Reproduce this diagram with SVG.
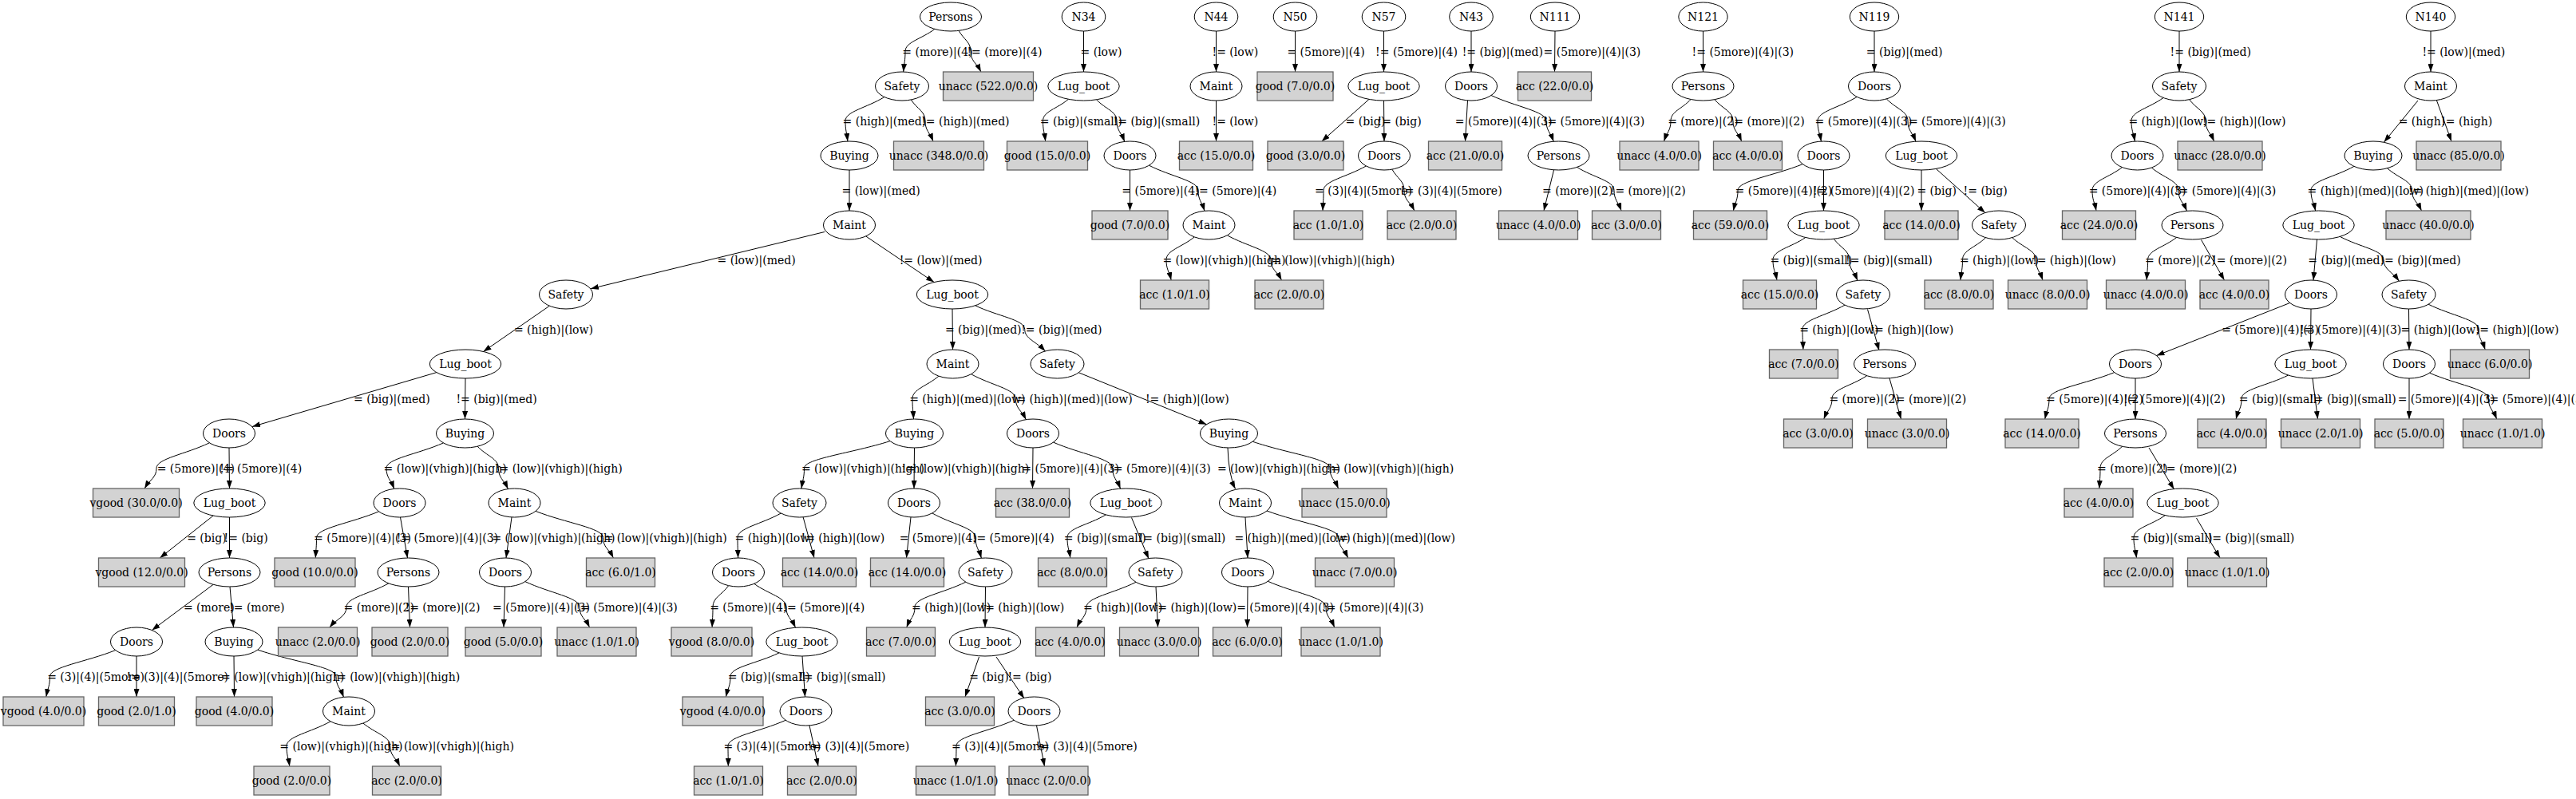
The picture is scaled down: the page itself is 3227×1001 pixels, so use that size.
<svg xmlns="http://www.w3.org/2000/svg" width="3227" height="1001" viewBox="0 0 3227 1001">
<defs>
<style>
text{font-family:"DejaVu Serif","Liberation Serif",serif;font-size:14px;fill:#000}
.en ellipse{fill:#fff;stroke:#000;stroke-width:1}
.bn rect{fill:#d3d3d3;stroke:#666;stroke-width:1.3}
.en text,.bn text{text-anchor:middle}
#connectors path{fill:none;stroke:#000;stroke-width:1;marker-end:url(#arr)}
</style>
<marker id="arr" markerWidth="10" markerHeight="7" refX="10" refY="3.5" orient="auto" markerUnits="userSpaceOnUse"><path d="M0,0L10,3.5L0,7z" fill="#000"/></marker>
</defs>
<rect width="3227" height="1001" fill="#fff"/>
<g id="connectors">
<path d="M1170.9,36.4 C1154.3,49 1134,52.5 1134,64.5 S1132.7,78.5 1131.7,90"/>
<path d="M1201,38.4 C1207.8,50.1 1216,52.5 1216,64.5 S1223.1,78.5 1228.9,90"/>
<path d="M1107.8,121.6 C1085.8,135.1 1059,139.5 1059,151.5 S1060.6,165.5 1061.9,177"/>
<path d="M1141.3,125 C1149.3,136.9 1159,139.5 1159,151.5 S1164.5,165.5 1169,177"/>
<path d="M1064,213 L1064,264"/>
<path d="M1033,290.5 L740,361.7"/>
<path d="M1084.6,295.9 L1170.1,353.5"/>
<path d="M688.4,383.2 L605.5,440.5"/>
<path d="M546.9,466.6 L316,534.5"/>
<path d="M583,474 L582.5,525"/>
<path d="M262.4,554.8 C232.5,569.1 196,574.5 196,586.5 S187.8,600.5 181.1,612"/>
<path d="M287,561 L287.5,612"/>
<path d="M267.2,646 L200.3,699"/>
<path d="M287.5,648 L287.5,699"/>
<path d="M267.1,732.3 L190.4,789.5"/>
<path d="M288,735 L292.5,786"/>
<path d="M144.7,814.6 C107.7,829.4 62.5,835.5 62.5,847.5 S59.9,861.5 57.8,873"/>
<path d="M171,822 L171,873"/>
<path d="M293,822 L293.5,873"/>
<path d="M322.8,814.1 C367,829.1 421,835.5 421,847.5 S426.2,861.7 430.5,873.4"/>
<path d="M414.1,903.8 C389.3,917.6 359,922.5 359,934.5 S361.1,948.5 362.8,960"/>
<path d="M454.9,906 C470.1,918.8 488.7,922.5 488.7,934.5 S495.4,948.5 500.9,960"/>
<path d="M555.5,554.9 C523.3,569.1 484,574.5 484,586.5 S489.4,600.7 493.8,612.4"/>
<path d="M598.1,559.2 C609.9,571.5 624.4,574.5 624.4,586.5 S631,600.9 636.4,612.6"/>
<path d="M474.6,640.8 C439.5,655.5 396.5,661.5 396.5,673.5 S395.8,687.5 395.3,699"/>
<path d="M501.5,648 L510.5,699"/>
<path d="M486.9,730.8 C463.1,744.2 434,748.5 434,760.5 S422.4,774.5 412.9,786"/>
<path d="M511.5,735 L513.5,786"/>
<path d="M641,648 L634,699"/>
<path d="M671,640.4 C709,655.3 755.5,661.5 755.5,673.5 S762.6,687.5 768.4,699"/>
<path d="M632.5,735 L631,786"/>
<path d="M657.8,728.6 C688.5,743 726,748.5 726,760.5 S732.9,774.5 738.6,786"/>
<path d="M1193,387 L1193.5,438"/>
<path d="M1221.7,382.8 C1249.6,396.2 1283.7,400.5 1283.7,412.5 S1297.8,427.6 1309.4,439.9"/>
<path d="M1175.9,471.2 C1161.1,483.9 1143,487.5 1143,499.5 S1143.8,513.5 1144.5,525"/>
<path d="M1216.5,468.7 C1241.6,482.6 1272.3,487.5 1272.3,499.5 S1279.5,513.9 1285.3,525.7"/>
<path d="M1351.3,466.8 L1511.5,531.7"/>
<path d="M1115,552.6 C1066.6,567.9 1007.5,574.5 1007.5,586.5 S1005.6,600.5 1004,612"/>
<path d="M1145.5,561 L1145,612"/>
<path d="M978.3,643 C953.9,656.7 924,661.5 924,673.5 S924.3,687.5 924.6,699"/>
<path d="M1006,647.5 L1020,699"/>
<path d="M912.7,733.7 C903.8,745.8 893,748.5 893,760.5 S892.5,774.5 892.1,786"/>
<path d="M944.7,731.3 C962.7,744.4 984.8,748.5 984.8,760.5 S991.2,774.7 996.5,786.3"/>
<path d="M976,817.9 C948.5,831.2 915,835.5 915,847.5 S911.9,861.5 909.4,873"/>
<path d="M1005,822 L1008.5,873"/>
<path d="M984.2,902.3 C951.7,916.8 912,922.5 912,934.5 S912.3,948.5 912.3,960"/>
<path d="M1014,909 L1025,960"/>
<path d="M1141,648 L1135.5,699"/>
<path d="M1167.8,642.9 C1192.2,656.7 1222,661.5 1222,673.5 S1226.1,687.6 1229.4,699.2"/>
<path d="M1209.8,729.2 C1181.1,743.3 1146,748.5 1146,760.5 S1140.3,774.5 1135.7,786"/>
<path d="M1234.5,735 L1234,786"/>
<path d="M1226.5,823 L1209,873"/>
<path d="M1248,823 L1283,875"/>
<path d="M1270.2,902.3 C1237.7,916.8 1198,922.5 1198,934.5 S1197.7,948.5 1197.4,960"/>
<path d="M1298.5,909 L1308.5,960"/>
<path d="M1294,561 L1293.5,612"/>
<path d="M1319.5,554.1 C1352.9,568.7 1393.7,574.5 1393.7,586.5 S1399.1,600.6 1403.6,612.2"/>
<path d="M1385.3,644.9 C1363.6,657.8 1337,661.5 1337,673.5 S1339.1,687.5 1340.8,699"/>
<path d="M1417.5,648.5 L1439,700"/>
<path d="M1423,729.3 C1395.1,743.3 1361,748.5 1361,760.5 S1354.4,774.5 1349,786"/>
<path d="M1448,735 L1450.5,786"/>
<path d="M1538,561 Q1539,595 1547.5,612.5"/>
<path d="M1569.2,553.2 C1612.8,568.2 1666,574.5 1666,586.5 S1671.8,600.5 1676.6,612"/>
<path d="M1560,648 L1563,699"/>
<path d="M1587,640 C1627.5,655.1 1677,661.5 1677,673.5 S1683.4,687.5 1688.7,699"/>
<path d="M1563,735 L1562.5,786"/>
<path d="M1588.4,728.3 C1621.1,742.8 1661,748.5 1661,760.5 S1667,774.5 1671.8,786"/>
<path d="M1357.5,39 L1357.5,90"/>
<path d="M1338.4,124.3 C1324,136.5 1306.5,139.5 1306.5,151.5 S1308.3,165.5 1309.7,177"/>
<path d="M1373.5,124.8 C1385,136.8 1399,139.5 1399,151.5 S1404.4,165.7 1408.8,177.4"/>
<path d="M1415.5,213 L1415.5,264"/>
<path d="M1439.4,207.2 C1467.1,221.3 1501,226.5 1501,238.5 S1505.4,252.7 1509,264.3"/>
<path d="M1496.2,296.9 C1480.4,309.8 1461,313.5 1461,325.5 S1464.4,339.5 1467.2,351"/>
<path d="M1537.4,294.8 C1562,308.6 1592,313.5 1592,325.5 S1599.4,339.5 1605.5,351"/>
<path d="M1523.5,39 L1523.5,90"/>
<path d="M1523.5,126 L1523.5,177"/>
<path d="M1622.5,39 L1622.5,90"/>
<path d="M1733.5,39 L1733.5,90"/>
<path d="M1715,124.4 L1655.8,177"/>
<path d="M1733.5,126 L1734,177"/>
<path d="M1711.4,207.9 C1687.4,221.7 1658,226.5 1658,238.5 S1657.5,252.5 1657,264"/>
<path d="M1743.9,212.2 C1750.7,224 1759,226.5 1759,238.5 S1766.1,252.5 1771.9,264"/>
<path d="M1843,39 L1843,90"/>
<path d="M1838.5,126 L1835.5,177"/>
<path d="M1868,119.5 C1899.1,133.9 1937,139.5 1937,151.5 S1942.1,165.6 1946.2,177.2"/>
<path d="M1946.5,213 L1934,264"/>
<path d="M1975.5,209.4 C1996.4,222.5 2022,226.5 2022,238.5 S2027,252.5 2031.1,264"/>
<path d="M1948,39 L1947.5,90"/>
<path d="M2133.5,39 L2133.5,90"/>
<path d="M2118.1,124.5 C2106.8,136.7 2093,139.5 2093,151.5 S2088.3,165.5 2084.5,177"/>
<path d="M2147.9,124.7 C2158.3,136.8 2171,139.5 2171,151.5 S2177,165.5 2181.8,177"/>
<path d="M2348,39 L2348,90"/>
<path d="M2326.2,121.4 C2304.1,134.9 2277,139.5 2277,151.5 S2279.4,165.6 2281.4,177.1"/>
<path d="M2363.3,123.9 C2375.3,136.3 2390,139.5 2390,151.5 S2395.5,165.6 2400,177.2"/>
<path d="M2258.3,205.6 C2221.7,220.4 2177,226.5 2177,238.5 S2173.9,252.5 2171.4,264"/>
<path d="M2284.5,213 L2284.5,264"/>
<path d="M2407,213 L2407,264"/>
<path d="M2425.3,211.4 L2486.8,266.6"/>
<path d="M2261.8,297.5 C2243.4,310.1 2221,313.5 2221,325.5 S2223.7,339.5 2226,351"/>
<path d="M2297.2,299.2 C2305.9,311 2316.6,313.5 2316.6,325.5 S2322.3,339.7 2327,351.4"/>
<path d="M2487.6,297.7 C2474.5,310.2 2458.5,313.5 2458.5,325.5 S2457.1,339.5 2455.9,351"/>
<path d="M2520.7,297.6 C2534.1,310.2 2550.5,313.5 2550.5,325.5 S2555.2,339.5 2559,351"/>
<path d="M2311.1,382.1 C2287.2,395.8 2258,400.5 2258,412.5 S2258.5,426.5 2258.9,438"/>
<path d="M2339.5,387.5 L2354,439"/>
<path d="M2338.7,470.7 C2319,483.7 2295,487.5 2295,499.5 S2289.3,513.5 2284.7,525"/>
<path d="M2367,474 L2381.5,525"/>
<path d="M2730,39 L2730,90"/>
<path d="M2710,122.5 C2692,135.6 2670,139.5 2670,151.5 S2672.4,165.6 2674.4,177.1"/>
<path d="M2742.6,124.7 C2751.8,136.8 2763,139.5 2763,151.5 S2768.8,165.5 2773.6,177"/>
<path d="M2658.5,209.6 C2641.6,222.6 2621,226.5 2621,238.5 S2623.7,252.5 2626,264"/>
<path d="M2695.3,210.1 C2710.5,222.9 2729,226.5 2729,238.5 S2734.7,252.7 2739.4,264.3"/>
<path d="M2726.7,297.4 C2710.5,310 2690.6,313.5 2690.6,325.5 S2689.8,339.5 2689.1,351"/>
<path d="M2757.5,300.5 L2786.5,351"/>
<path d="M3045,39 L3045,90"/>
<path d="M3029,126 L2986.5,178"/>
<path d="M3052.5,126 L3071,177"/>
<path d="M2949,208.4 C2924.7,221.9 2895,226.5 2895,238.5 S2898.1,252.6 2900.6,264.1"/>
<path d="M2990.5,210.7 C3004.5,223.2 3021.5,226.5 3021.5,238.5 S3028.1,252.5 3033.5,264"/>
<path d="M2902.5,300 L2898,351"/>
<path d="M2931.4,296.4 C2956,309.5 2986,313.5 2986,325.5 S2996.7,340.2 3005.4,352.2"/>
<path d="M2868.5,379.5 L2701.5,445.5"/>
<path d="M2895,387 L2894.5,438"/>
<path d="M3017.5,387 L3018,438"/>
<path d="M3042.1,381.2 C3070.4,395.3 3105,400.5 3105,412.5 S3109.5,426.5 3113.2,438"/>
<path d="M2648.7,466.6 C2611.9,481.4 2567,487.5 2567,499.5 S2564.1,513.5 2561.7,525"/>
<path d="M2675,474 L2675,525"/>
<path d="M2658.5,559.3 C2646.1,571.5 2631,574.5 2631,586.5 S2630.4,600.5 2629.8,612"/>
<path d="M2692,561 L2723.5,613"/>
<path d="M2712.4,645.6 C2694.7,658.2 2673,661.5 2673,673.5 S2674.9,687.5 2676.5,699"/>
<path d="M2751.5,649 L2781,699"/>
<path d="M2866.6,470 C2840.2,483.3 2808,487.5 2808,499.5 S2804.2,513.5 2801,525"/>
<path d="M2897,474 L2903.5,525"/>
<path d="M3018,474 L3018,525"/>
<path d="M3043.5,467.2 C3076.8,481.7 3117.4,487.5 3117.4,499.5 S3123.1,513.5 3127.7,525"/>
<g id="edge-labels">
<text x="1130.3" y="69.5">= (more)|(4)</text>
<text x="1211.4" y="69.5">!= (more)|(4)</text>
<text x="1055.5" y="156.5">= (high)|(med)</text>
<text x="1154.2" y="156.5">!= (high)|(med)</text>
<text x="1054.5" y="243.5">= (low)|(med)</text>
<text x="898.5" y="330.5">= (low)|(med)</text>
<text x="1126.7" y="330.5">!= (low)|(med)</text>
<text x="643.9" y="417.5">= (high)|(low)</text>
<text x="443.1" y="504.5">= (big)|(med)</text>
<text x="571.4" y="504.5">!= (big)|(med)</text>
<text x="196.7" y="591.5">= (5more)|(4)</text>
<text x="275.3" y="591.5">!= (5more)|(4)</text>
<text x="234.2" y="678.5">= (big)</text>
<text x="280.6" y="678.5">!= (big)</text>
<text x="229.9" y="765.5">= (more)</text>
<text x="287.1" y="765.5">!= (more)</text>
<text x="59.2" y="852.5">= (3)|(4)|(5more)</text>
<text x="158.5" y="852.5">!= (3)|(4)|(5more)</text>
<text x="277.1" y="852.5">= (low)|(vhigh)|(high)</text>
<text x="416.4" y="852.5">!= (low)|(vhigh)|(high)</text>
<text x="350.3" y="939.5">= (low)|(vhigh)|(high)</text>
<text x="484.2" y="939.5">!= (low)|(vhigh)|(high)</text>
<text x="480.6" y="591.5">= (low)|(vhigh)|(high)</text>
<text x="619.9" y="591.5">!= (low)|(vhigh)|(high)</text>
<text x="393.1" y="678.5">= (5more)|(4)|(3)</text>
<text x="496.7" y="678.5">!= (5more)|(4)|(3)</text>
<text x="430.6" y="765.5">= (more)|(2)</text>
<text x="507.5" y="765.5">!= (more)|(2)</text>
<text x="616.4" y="678.5">= (low)|(vhigh)|(high)</text>
<text x="751" y="678.5">!= (low)|(vhigh)|(high)</text>
<text x="617.1" y="765.5">= (5more)|(4)|(3)</text>
<text x="721.4" y="765.5">!= (5more)|(4)|(3)</text>
<text x="1183.9" y="417.5">= (big)|(med)</text>
<text x="1279.2" y="417.5">!= (big)|(med)</text>
<text x="1139.2" y="504.5">= (high)|(med)|(low)</text>
<text x="1267.8" y="504.5">!= (high)|(med)|(low)</text>
<text x="1434.9" y="504.5">!= (high)|(low)</text>
<text x="1003.9" y="591.5">= (low)|(vhigh)|(high)</text>
<text x="1129.5" y="591.5">!= (low)|(vhigh)|(high)</text>
<text x="920.6" y="678.5">= (high)|(low)</text>
<text x="1003.5" y="678.5">!= (high)|(low)</text>
<text x="889.2" y="765.5">= (5more)|(4)</text>
<text x="980.3" y="765.5">!= (5more)|(4)</text>
<text x="911.7" y="852.5">= (big)|(small)</text>
<text x="1001" y="852.5">!= (big)|(small)</text>
<text x="906.4" y="939.5">= (3)|(4)|(5more)</text>
<text x="1011.7" y="939.5">!= (3)|(4)|(5more)</text>
<text x="1126.7" y="678.5">= (5more)|(4)</text>
<text x="1217.8" y="678.5">!= (5more)|(4)</text>
<text x="1142.1" y="765.5">= (high)|(low)</text>
<text x="1228.5" y="765.5">!= (high)|(low)</text>
<text x="1214.2" y="852.5">= (big)</text>
<text x="1262.4" y="852.5">!= (big)</text>
<text x="1192.1" y="939.5">= (3)|(4)|(5more)</text>
<text x="1297.4" y="939.5">!= (3)|(4)|(5more)</text>
<text x="1280.3" y="591.5">= (5more)|(4)|(3)</text>
<text x="1389.2" y="591.5">!= (5more)|(4)|(3)</text>
<text x="1332.8" y="678.5">= (big)|(small)</text>
<text x="1426.7" y="678.5">!= (big)|(small)</text>
<text x="1357.1" y="765.5">= (high)|(low)</text>
<text x="1444.6" y="765.5">!= (high)|(low)</text>
<text x="1524.9" y="591.5">= (low)|(vhigh)|(high)</text>
<text x="1661.5" y="591.5">!= (low)|(vhigh)|(high)</text>
<text x="1546.4" y="678.5">= (high)|(med)|(low)</text>
<text x="1672.1" y="678.5">!= (high)|(med)|(low)</text>
<text x="1549.2" y="765.5">= (5more)|(4)|(3)</text>
<text x="1656" y="765.5">!= (5more)|(4)|(3)</text>
<text x="1353.5" y="69.5">= (low)</text>
<text x="1302.8" y="156.5">= (big)|(small)</text>
<text x="1394.6" y="156.5">!= (big)|(small)</text>
<text x="1405.3" y="243.5">= (5more)|(4)</text>
<text x="1496.4" y="243.5">!= (5more)|(4)</text>
<text x="1456.4" y="330.5">= (low)|(vhigh)|(high)</text>
<text x="1587.4" y="330.5">!= (low)|(vhigh)|(high)</text>
<text x="1518.5" y="69.5">!= (low)</text>
<text x="1518.5" y="156.5">!= (low)</text>
<text x="1612.4" y="69.5">= (5more)|(4)</text>
<text x="1723.1" y="69.5">!= (5more)|(4)</text>
<text x="1685.6" y="156.5">= (big)</text>
<text x="1725.6" y="156.5">!= (big)</text>
<text x="1647.1" y="243.5">= (3)|(4)|(5more)</text>
<text x="1754.2" y="243.5">!= (3)|(4)|(5more)</text>
<text x="1831.7" y="69.5">!= (big)|(med)</text>
<text x="1822.8" y="156.5">= (5more)|(4)|(3)</text>
<text x="1932.8" y="156.5">!= (5more)|(4)|(3)</text>
<text x="1932.1" y="243.5">= (more)|(2)</text>
<text x="2017.8" y="243.5">!= (more)|(2)</text>
<text x="1933.5" y="69.5">= (5more)|(4)|(3)</text>
<text x="2119.6" y="69.5">!= (5more)|(4)|(3)</text>
<text x="2089.2" y="156.5">= (more)|(2)</text>
<text x="2166.7" y="156.5">!= (more)|(2)</text>
<text x="2337.8" y="69.5">= (big)|(med)</text>
<text x="2273.5" y="156.5">= (5more)|(4)|(3)</text>
<text x="2385.3" y="156.5">!= (5more)|(4)|(3)</text>
<text x="2173.5" y="243.5">= (5more)|(4)|(2)</text>
<text x="2271" y="243.5">!= (5more)|(4)|(2)</text>
<text x="2401.4" y="243.5">= (big)</text>
<text x="2459.6" y="243.5">!= (big)</text>
<text x="2217.4" y="330.5">= (big)|(small)</text>
<text x="2312.1" y="330.5">!= (big)|(small)</text>
<text x="2454.9" y="330.5">= (high)|(low)</text>
<text x="2546" y="330.5">!= (high)|(low)</text>
<text x="2254.2" y="417.5">= (high)|(low)</text>
<text x="2342.4" y="417.5">!= (high)|(low)</text>
<text x="2291.4" y="504.5">= (more)|(2)</text>
<text x="2369.2" y="504.5">!= (more)|(2)</text>
<text x="2718.6" y="69.5">!= (big)|(med)</text>
<text x="2666.4" y="156.5">= (high)|(low)</text>
<text x="2758.8" y="156.5">!= (high)|(low)</text>
<text x="2616.7" y="243.5">= (5more)|(4)|(3)</text>
<text x="2723.9" y="243.5">!= (5more)|(4)|(3)</text>
<text x="2687.1" y="330.5">= (more)|(2)</text>
<text x="2771" y="330.5">!= (more)|(2)</text>
<text x="3034.4" y="69.5">!= (low)|(med)</text>
<text x="3004.7" y="156.5">= (high)</text>
<text x="3058.1" y="156.5">!= (high)</text>
<text x="2890.6" y="243.5">= (high)|(med)|(low)</text>
<text x="3017" y="243.5">!= (high)|(med)|(low)</text>
<text x="2891.3" y="330.5">= (big)|(med)</text>
<text x="2981.4" y="330.5">!= (big)|(med)</text>
<text x="2783.2" y="417.5">= (5more)|(4)|(3)</text>
<text x="2880.9" y="417.5">!= (5more)|(4)|(3)</text>
<text x="3007.5" y="417.5">= (high)|(low)</text>
<text x="3100.7" y="417.5">!= (high)|(low)</text>
<text x="2563.1" y="504.5">= (5more)|(4)|(2)</text>
<text x="2660.3" y="504.5">!= (5more)|(4)|(2)</text>
<text x="2627.1" y="591.5">= (more)|(2)</text>
<text x="2708.2" y="591.5">!= (more)|(2)</text>
<text x="2668.5" y="678.5">= (big)|(small)</text>
<text x="2765.7" y="678.5">!= (big)|(small)</text>
<text x="2804.8" y="504.5">= (big)|(small)</text>
<text x="2893.1" y="504.5">!= (big)|(small)</text>
<text x="3003.7" y="504.5">= (5more)|(4)|(3)</text>
<text x="3112.9" y="504.5">!= (5more)|(4)|(3)</text>
</g>
</g>
<g id="nodes">
<g id="A1" class="en"><ellipse cx="1191" cy="21" rx="38.5" ry="18"/><text x="1191" y="26">Persons</text></g>
<g id="A2" class="en"><ellipse cx="1130" cy="108" rx="33.5" ry="18"/><text x="1130" y="113">Safety</text></g>
<g id="A3" class="bn"><rect x="1181.5" y="90" width="113" height="36"/><text x="1238" y="113">unacc (522.0/0.0)</text></g>
<g id="A4" class="en"><ellipse cx="1064" cy="195" rx="36" ry="18"/><text x="1064" y="200">Buying</text></g>
<g id="A5" class="bn"><rect x="1119.5" y="177" width="113" height="36"/><text x="1176" y="200">unacc (348.0/0.0)</text></g>
<g id="A6" class="en"><ellipse cx="1064" cy="282" rx="32.5" ry="18"/><text x="1064" y="287">Maint</text></g>
<g id="A7" class="en"><ellipse cx="709" cy="369" rx="33.5" ry="18"/><text x="709" y="374">Safety</text></g>
<g id="A8" class="en"><ellipse cx="1193" cy="369" rx="44.7" ry="18"/><text x="1193" y="374">Lug_boot</text></g>
<g id="A9" class="en"><ellipse cx="583" cy="456" rx="44.7" ry="18"/><text x="583" y="461">Lug_boot</text></g>
<g id="A10" class="en"><ellipse cx="287" cy="543" rx="32.5" ry="18"/><text x="287" y="548">Doors</text></g>
<g id="A11" class="en"><ellipse cx="582.5" cy="543" rx="36" ry="18"/><text x="582.5" y="548">Buying</text></g>
<g id="A12" class="bn"><rect x="116.5" y="612" width="108" height="36"/><text x="170.5" y="635">vgood (30.0/0.0)</text></g>
<g id="A13" class="en"><ellipse cx="287.5" cy="630" rx="44.7" ry="18"/><text x="287.5" y="635">Lug_boot</text></g>
<g id="A14" class="bn"><rect x="123.5" y="699" width="108" height="36"/><text x="177.5" y="722">vgood (12.0/0.0)</text></g>
<g id="A15" class="en"><ellipse cx="287.5" cy="717" rx="38.5" ry="18"/><text x="287.5" y="722">Persons</text></g>
<g id="A16" class="en"><ellipse cx="171" cy="804" rx="32.5" ry="18"/><text x="171" y="809">Doors</text></g>
<g id="A17" class="en"><ellipse cx="293" cy="804" rx="36" ry="18"/><text x="293" y="809">Buying</text></g>
<g id="A18" class="bn"><rect x="4" y="873" width="101" height="36"/><text x="54.5" y="896">vgood (4.0/0.0)</text></g>
<g id="A19" class="bn"><rect x="123.5" y="873" width="95" height="36"/><text x="171" y="896">good (2.0/1.0)</text></g>
<g id="A20" class="bn"><rect x="246" y="873" width="95" height="36"/><text x="293.5" y="896">good (4.0/0.0)</text></g>
<g id="A21" class="en"><ellipse cx="437" cy="891" rx="32.5" ry="18"/><text x="437" y="896">Maint</text></g>
<g id="A22" class="bn"><rect x="318" y="960" width="95" height="36"/><text x="365.5" y="983">good (2.0/0.0)</text></g>
<g id="A23" class="bn"><rect x="466.5" y="960" width="86" height="36"/><text x="509.5" y="983">acc (2.0/0.0)</text></g>
<g id="A24" class="en"><ellipse cx="500.5" cy="630" rx="32.5" ry="18"/><text x="500.5" y="635">Doors</text></g>
<g id="A25" class="en"><ellipse cx="644.5" cy="630" rx="32.5" ry="18"/><text x="644.5" y="635">Maint</text></g>
<g id="A26" class="bn"><rect x="344" y="699" width="101" height="36"/><text x="394.5" y="722">good (10.0/0.0)</text></g>
<g id="A27" class="en"><ellipse cx="511.5" cy="717" rx="38.5" ry="18"/><text x="511.5" y="722">Persons</text></g>
<g id="A28" class="bn"><rect x="348.5" y="786" width="99" height="36"/><text x="398" y="809">unacc (2.0/0.0)</text></g>
<g id="A29" class="bn"><rect x="466" y="786" width="95" height="36"/><text x="513.5" y="809">good (2.0/0.0)</text></g>
<g id="A30" class="en"><ellipse cx="633" cy="717" rx="32.5" ry="18"/><text x="633" y="722">Doors</text></g>
<g id="A31" class="bn"><rect x="734.5" y="699" width="86" height="36"/><text x="777.5" y="722">acc (6.0/1.0)</text></g>
<g id="A32" class="bn"><rect x="583" y="786" width="95" height="36"/><text x="630.5" y="809">good (5.0/0.0)</text></g>
<g id="A33" class="bn"><rect x="698" y="786" width="99" height="36"/><text x="747.5" y="809">unacc (1.0/1.0)</text></g>
<g id="A34" class="en"><ellipse cx="1193.5" cy="456" rx="32.5" ry="18"/><text x="1193.5" y="461">Maint</text></g>
<g id="A35" class="en"><ellipse cx="1324.5" cy="456" rx="33.5" ry="18"/><text x="1324.5" y="461">Safety</text></g>
<g id="A36" class="en"><ellipse cx="1145.5" cy="543" rx="36" ry="18"/><text x="1145.5" y="548">Buying</text></g>
<g id="A37" class="en"><ellipse cx="1294" cy="543" rx="32.5" ry="18"/><text x="1294" y="548">Doors</text></g>
<g id="A38" class="en"><ellipse cx="1539.5" cy="543" rx="36" ry="18"/><text x="1539.5" y="548">Buying</text></g>
<g id="A39" class="en"><ellipse cx="1001.5" cy="630" rx="33.5" ry="18"/><text x="1001.5" y="635">Safety</text></g>
<g id="A40" class="en"><ellipse cx="1145" cy="630" rx="32.5" ry="18"/><text x="1145" y="635">Doors</text></g>
<g id="A41" class="en"><ellipse cx="925" cy="717" rx="32.5" ry="18"/><text x="925" y="722">Doors</text></g>
<g id="A42" class="bn"><rect x="980.5" y="699" width="92" height="36"/><text x="1026.5" y="722">acc (14.0/0.0)</text></g>
<g id="A43" class="bn"><rect x="841" y="786" width="101" height="36"/><text x="891.5" y="809">vgood (8.0/0.0)</text></g>
<g id="A44" class="en"><ellipse cx="1004.5" cy="804" rx="44.7" ry="18"/><text x="1004.5" y="809">Lug_boot</text></g>
<g id="A45" class="bn"><rect x="855" y="873" width="101" height="36"/><text x="905.5" y="896">vgood (4.0/0.0)</text></g>
<g id="A46" class="en"><ellipse cx="1009.5" cy="891" rx="32.5" ry="18"/><text x="1009.5" y="896">Doors</text></g>
<g id="A47" class="bn"><rect x="869.5" y="960" width="86" height="36"/><text x="912.5" y="983">acc (1.0/1.0)</text></g>
<g id="A48" class="bn"><rect x="986.5" y="960" width="86" height="36"/><text x="1029.5" y="983">acc (2.0/0.0)</text></g>
<g id="A49" class="bn"><rect x="1090.5" y="699" width="92" height="36"/><text x="1136.5" y="722">acc (14.0/0.0)</text></g>
<g id="A50" class="en"><ellipse cx="1234.5" cy="717" rx="33.5" ry="18"/><text x="1234.5" y="722">Safety</text></g>
<g id="A51" class="bn"><rect x="1085.5" y="786" width="86" height="36"/><text x="1128.5" y="809">acc (7.0/0.0)</text></g>
<g id="A52" class="en"><ellipse cx="1234" cy="804" rx="44.7" ry="18"/><text x="1234" y="809">Lug_boot</text></g>
<g id="A53" class="bn"><rect x="1159.5" y="873" width="86" height="36"/><text x="1202.5" y="896">acc (3.0/0.0)</text></g>
<g id="A54" class="en"><ellipse cx="1295.5" cy="891" rx="32.5" ry="18"/><text x="1295.5" y="896">Doors</text></g>
<g id="A55" class="bn"><rect x="1147.5" y="960" width="99" height="36"/><text x="1197" y="983">unacc (1.0/1.0)</text></g>
<g id="A56" class="bn"><rect x="1264" y="960" width="99" height="36"/><text x="1313.5" y="983">unacc (2.0/0.0)</text></g>
<g id="A57" class="bn"><rect x="1247.5" y="612" width="92" height="36"/><text x="1293.5" y="635">acc (38.0/0.0)</text></g>
<g id="A58" class="en"><ellipse cx="1410.5" cy="630" rx="44.7" ry="18"/><text x="1410.5" y="635">Lug_boot</text></g>
<g id="A59" class="bn"><rect x="1300.5" y="699" width="86" height="36"/><text x="1343.5" y="722">acc (8.0/0.0)</text></g>
<g id="A60" class="en"><ellipse cx="1447.5" cy="717" rx="33.5" ry="18"/><text x="1447.5" y="722">Safety</text></g>
<g id="A61" class="bn"><rect x="1297.5" y="786" width="86" height="36"/><text x="1340.5" y="809">acc (4.0/0.0)</text></g>
<g id="A62" class="bn"><rect x="1402.5" y="786" width="99" height="36"/><text x="1452" y="809">unacc (3.0/0.0)</text></g>
<g id="A63" class="en"><ellipse cx="1560" cy="630" rx="32.5" ry="18"/><text x="1560" y="635">Maint</text></g>
<g id="A64" class="bn"><rect x="1631" y="612" width="106" height="36"/><text x="1684" y="635">unacc (15.0/0.0)</text></g>
<g id="A65" class="en"><ellipse cx="1563" cy="717" rx="32.5" ry="18"/><text x="1563" y="722">Doors</text></g>
<g id="A66" class="bn"><rect x="1647.5" y="699" width="99" height="36"/><text x="1697" y="722">unacc (7.0/0.0)</text></g>
<g id="A67" class="bn"><rect x="1519.5" y="786" width="86" height="36"/><text x="1562.5" y="809">acc (6.0/0.0)</text></g>
<g id="A68" class="bn"><rect x="1630" y="786" width="99" height="36"/><text x="1679.5" y="809">unacc (1.0/1.0)</text></g>
<g id="B1" class="en"><ellipse cx="1357.5" cy="21" rx="27.3" ry="18"/><text x="1357.5" y="26">N34</text></g>
<g id="B2" class="en"><ellipse cx="1357.5" cy="108" rx="44.7" ry="18"/><text x="1357.5" y="113">Lug_boot</text></g>
<g id="B3" class="bn"><rect x="1261.5" y="177" width="101" height="36"/><text x="1312" y="200">good (15.0/0.0)</text></g>
<g id="B4" class="en"><ellipse cx="1415.5" cy="195" rx="32.5" ry="18"/><text x="1415.5" y="200">Doors</text></g>
<g id="B5" class="bn"><rect x="1368" y="264" width="95" height="36"/><text x="1415.5" y="287">good (7.0/0.0)</text></g>
<g id="B6" class="en"><ellipse cx="1514.5" cy="282" rx="32.5" ry="18"/><text x="1514.5" y="287">Maint</text></g>
<g id="B7" class="bn"><rect x="1428.5" y="351" width="86" height="36"/><text x="1471.5" y="374">acc (1.0/1.0)</text></g>
<g id="B8" class="bn"><rect x="1572" y="351" width="86" height="36"/><text x="1615" y="374">acc (2.0/0.0)</text></g>
<g id="C1" class="en"><ellipse cx="1523.5" cy="21" rx="27.3" ry="18"/><text x="1523.5" y="26">N44</text></g>
<g id="C2" class="en"><ellipse cx="1523.5" cy="108" rx="32.5" ry="18"/><text x="1523.5" y="113">Maint</text></g>
<g id="C3" class="bn"><rect x="1477.5" y="177" width="92" height="36"/><text x="1523.5" y="200">acc (15.0/0.0)</text></g>
<g id="D1" class="en"><ellipse cx="1622.5" cy="21" rx="27.3" ry="18"/><text x="1622.5" y="26">N50</text></g>
<g id="D2" class="bn"><rect x="1575" y="90" width="95" height="36"/><text x="1622.5" y="113">good (7.0/0.0)</text></g>
<g id="E1" class="en"><ellipse cx="1733.5" cy="21" rx="27.3" ry="18"/><text x="1733.5" y="26">N57</text></g>
<g id="E2" class="en"><ellipse cx="1733.5" cy="108" rx="44.7" ry="18"/><text x="1733.5" y="113">Lug_boot</text></g>
<g id="E3" class="bn"><rect x="1588" y="177" width="95" height="36"/><text x="1635.5" y="200">good (3.0/0.0)</text></g>
<g id="E4" class="en"><ellipse cx="1734" cy="195" rx="32.5" ry="18"/><text x="1734" y="200">Doors</text></g>
<g id="E5" class="bn"><rect x="1621" y="264" width="86" height="36"/><text x="1664" y="287">acc (1.0/1.0)</text></g>
<g id="E6" class="bn"><rect x="1738" y="264" width="86" height="36"/><text x="1781" y="287">acc (2.0/0.0)</text></g>
<g id="F1" class="en"><ellipse cx="1843" cy="21" rx="27.3" ry="18"/><text x="1843" y="26">N43</text></g>
<g id="F2" class="en"><ellipse cx="1843" cy="108" rx="32.5" ry="18"/><text x="1843" y="113">Doors</text></g>
<g id="F3" class="bn"><rect x="1789.5" y="177" width="92" height="36"/><text x="1835.5" y="200">acc (21.0/0.0)</text></g>
<g id="F4" class="en"><ellipse cx="1952.5" cy="195" rx="38.5" ry="18"/><text x="1952.5" y="200">Persons</text></g>
<g id="F5" class="bn"><rect x="1877.5" y="264" width="99" height="36"/><text x="1927" y="287">unacc (4.0/0.0)</text></g>
<g id="F6" class="bn"><rect x="1994.5" y="264" width="86" height="36"/><text x="2037.5" y="287">acc (3.0/0.0)</text></g>
<g id="G1" class="en"><ellipse cx="1948" cy="21" rx="30.7" ry="18"/><text x="1948" y="26">N111</text></g>
<g id="G2" class="bn"><rect x="1901.5" y="90" width="92" height="36"/><text x="1947.5" y="113">acc (22.0/0.0)</text></g>
<g id="H1" class="en"><ellipse cx="2133.5" cy="21" rx="30.7" ry="18"/><text x="2133.5" y="26">N121</text></g>
<g id="H2" class="en"><ellipse cx="2133.5" cy="108" rx="38.5" ry="18"/><text x="2133.5" y="113">Persons</text></g>
<g id="H3" class="bn"><rect x="2029" y="177" width="99" height="36"/><text x="2078.5" y="200">unacc (4.0/0.0)</text></g>
<g id="H4" class="bn"><rect x="2146.5" y="177" width="86" height="36"/><text x="2189.5" y="200">acc (4.0/0.0)</text></g>
<g id="I1" class="en"><ellipse cx="2348" cy="21" rx="30.7" ry="18"/><text x="2348" y="26">N119</text></g>
<g id="I2" class="en"><ellipse cx="2348" cy="108" rx="32.5" ry="18"/><text x="2348" y="113">Doors</text></g>
<g id="I3" class="en"><ellipse cx="2284.5" cy="195" rx="32.5" ry="18"/><text x="2284.5" y="200">Doors</text></g>
<g id="I4" class="en"><ellipse cx="2407" cy="195" rx="44.7" ry="18"/><text x="2407" y="200">Lug_boot</text></g>
<g id="I5" class="bn"><rect x="2121.5" y="264" width="92" height="36"/><text x="2167.5" y="287">acc (59.0/0.0)</text></g>
<g id="I6" class="en"><ellipse cx="2284.5" cy="282" rx="44.7" ry="18"/><text x="2284.5" y="287">Lug_boot</text></g>
<g id="I7" class="bn"><rect x="2361" y="264" width="92" height="36"/><text x="2407" y="287">acc (14.0/0.0)</text></g>
<g id="I8" class="en"><ellipse cx="2504" cy="282" rx="33.5" ry="18"/><text x="2504" y="287">Safety</text></g>
<g id="I9" class="bn"><rect x="2183.5" y="351" width="92" height="36"/><text x="2229.5" y="374">acc (15.0/0.0)</text></g>
<g id="I10" class="en"><ellipse cx="2334" cy="369" rx="33.5" ry="18"/><text x="2334" y="374">Safety</text></g>
<g id="I11" class="bn"><rect x="2411" y="351" width="86" height="36"/><text x="2454" y="374">acc (8.0/0.0)</text></g>
<g id="I12" class="bn"><rect x="2515.5" y="351" width="99" height="36"/><text x="2565" y="374">unacc (8.0/0.0)</text></g>
<g id="I13" class="bn"><rect x="2216.5" y="438" width="86" height="36"/><text x="2259.5" y="461">acc (7.0/0.0)</text></g>
<g id="I14" class="en"><ellipse cx="2361" cy="456" rx="38.5" ry="18"/><text x="2361" y="461">Persons</text></g>
<g id="I15" class="bn"><rect x="2234.5" y="525" width="86" height="36"/><text x="2277.5" y="548">acc (3.0/0.0)</text></g>
<g id="I16" class="bn"><rect x="2339.5" y="525" width="99" height="36"/><text x="2389" y="548">unacc (3.0/0.0)</text></g>
<g id="J1" class="en"><ellipse cx="2730" cy="21" rx="30.7" ry="18"/><text x="2730" y="26">N141</text></g>
<g id="J2" class="en"><ellipse cx="2730" cy="108" rx="33.5" ry="18"/><text x="2730" y="113">Safety</text></g>
<g id="J3" class="en"><ellipse cx="2677.5" cy="195" rx="32.5" ry="18"/><text x="2677.5" y="200">Doors</text></g>
<g id="J4" class="bn"><rect x="2728" y="177" width="106" height="36"/><text x="2781" y="200">unacc (28.0/0.0)</text></g>
<g id="J5" class="bn"><rect x="2583.5" y="264" width="92" height="36"/><text x="2629.5" y="287">acc (24.0/0.0)</text></g>
<g id="J6" class="en"><ellipse cx="2746.5" cy="282" rx="38.5" ry="18"/><text x="2746.5" y="287">Persons</text></g>
<g id="J7" class="bn"><rect x="2638.5" y="351" width="99" height="36"/><text x="2688" y="374">unacc (4.0/0.0)</text></g>
<g id="J8" class="bn"><rect x="2756" y="351" width="86" height="36"/><text x="2799" y="374">acc (4.0/0.0)</text></g>
<g id="K1" class="en"><ellipse cx="3045" cy="21" rx="30.7" ry="18"/><text x="3045" y="26">N140</text></g>
<g id="K2" class="en"><ellipse cx="3045" cy="108" rx="32.5" ry="18"/><text x="3045" y="113">Maint</text></g>
<g id="K3" class="en"><ellipse cx="2973" cy="195" rx="36" ry="18"/><text x="2973" y="200">Buying</text></g>
<g id="K4" class="bn"><rect x="3027" y="177" width="106" height="36"/><text x="3080" y="200">unacc (85.0/0.0)</text></g>
<g id="K5" class="en"><ellipse cx="2904.5" cy="282" rx="44.7" ry="18"/><text x="2904.5" y="287">Lug_boot</text></g>
<g id="K6" class="bn"><rect x="2989" y="264" width="106" height="36"/><text x="3042" y="287">unacc (40.0/0.0)</text></g>
<g id="K7" class="en"><ellipse cx="2895" cy="369" rx="32.5" ry="18"/><text x="2895" y="374">Doors</text></g>
<g id="K8" class="en"><ellipse cx="3017.5" cy="369" rx="33.5" ry="18"/><text x="3017.5" y="374">Safety</text></g>
<g id="K9" class="en"><ellipse cx="2675" cy="456" rx="32.5" ry="18"/><text x="2675" y="461">Doors</text></g>
<g id="K10" class="en"><ellipse cx="2894.5" cy="456" rx="44.7" ry="18"/><text x="2894.5" y="461">Lug_boot</text></g>
<g id="K11" class="en"><ellipse cx="3018" cy="456" rx="32.5" ry="18"/><text x="3018" y="461">Doors</text></g>
<g id="K12" class="bn"><rect x="3069.5" y="438" width="99" height="36"/><text x="3119" y="461">unacc (6.0/0.0)</text></g>
<g id="K13" class="bn"><rect x="2512" y="525" width="92" height="36"/><text x="2558" y="548">acc (14.0/0.0)</text></g>
<g id="K14" class="en"><ellipse cx="2675" cy="543" rx="38.5" ry="18"/><text x="2675" y="548">Persons</text></g>
<g id="K15" class="bn"><rect x="2753" y="525" width="86" height="36"/><text x="2796" y="548">acc (4.0/0.0)</text></g>
<g id="K16" class="bn"><rect x="2857.5" y="525" width="99" height="36"/><text x="2907" y="548">unacc (2.0/1.0)</text></g>
<g id="K17" class="bn"><rect x="2975" y="525" width="86" height="36"/><text x="3018" y="548">acc (5.0/0.0)</text></g>
<g id="K18" class="bn"><rect x="3085.5" y="525" width="99" height="36"/><text x="3135" y="548">unacc (1.0/1.0)</text></g>
<g id="K19" class="bn"><rect x="2586" y="612" width="86" height="36"/><text x="2629" y="635">acc (4.0/0.0)</text></g>
<g id="K20" class="en"><ellipse cx="2734.5" cy="630" rx="44.7" ry="18"/><text x="2734.5" y="635">Lug_boot</text></g>
<g id="K21" class="bn"><rect x="2636" y="699" width="86" height="36"/><text x="2679" y="722">acc (2.0/0.0)</text></g>
<g id="K22" class="bn"><rect x="2740.5" y="699" width="99" height="36"/><text x="2790" y="722">unacc (1.0/1.0)</text></g>
</g>
</svg>
